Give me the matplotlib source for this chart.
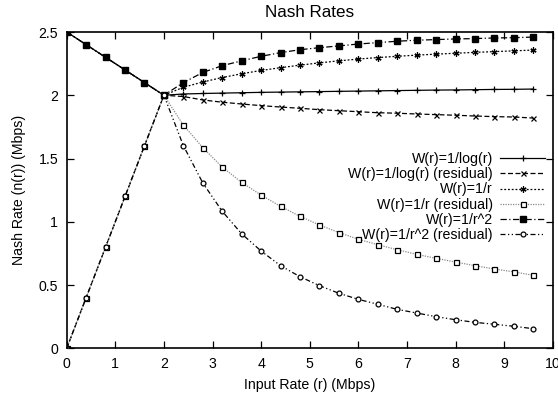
import matplotlib
matplotlib.use('Agg')
import matplotlib.pyplot as plt

plt.rcParams['font.family'] = ['Liberation Sans', 'DejaVu Sans']
plt.rcParams['font.size'] = 10.2

# Input rate (Mbps)
x = [0.0, 0.4, 0.8, 1.2, 1.6, 2.0, 2.4, 2.8, 3.2, 3.6, 4.0, 4.4, 4.8,
     5.2, 5.6, 6.0, 6.4, 6.8, 7.2, 7.6, 8.0, 8.4, 8.8, 9.2, 9.6]

log_r = [2.5, 2.4, 2.3, 2.2, 2.1, 2.0,
         2.010, 2.014, 2.017, 2.020, 2.023, 2.025, 2.027, 2.029, 2.031,
         2.033, 2.035, 2.037, 2.039, 2.041, 2.042, 2.044, 2.046, 2.047, 2.049]
log_r_res = [0.0, 0.4, 0.8, 1.2, 1.6, 2.0,
             1.990, 1.963, 1.945, 1.931, 1.918, 1.907, 1.897, 1.886, 1.878,
             1.870, 1.862, 1.858, 1.852, 1.847, 1.842, 1.836, 1.831, 1.828, 1.820]
inv_r = [2.5, 2.4, 2.3, 2.2, 2.1, 2.0,
         2.063, 2.105, 2.140, 2.170, 2.196, 2.218, 2.238, 2.256, 2.272,
         2.286, 2.298, 2.308, 2.317, 2.325, 2.332, 2.339, 2.345, 2.351, 2.357]
inv_r_res = [0.0, 0.4, 0.8, 1.2, 1.6, 2.0,
             1.765, 1.586, 1.432, 1.311, 1.211, 1.122, 1.043, 0.975, 0.915,
             0.862, 0.819, 0.779, 0.743, 0.711, 0.682, 0.653, 0.627, 0.604, 0.577]
inv_r2 = [2.5, 2.4, 2.3, 2.2, 2.1, 2.0,
          2.100, 2.180, 2.234, 2.272, 2.308, 2.337, 2.360, 2.376, 2.390,
          2.405, 2.416, 2.427, 2.435, 2.440, 2.445, 2.448, 2.453, 2.455, 2.460]
inv_r2_res = [0.0, 0.4, 0.8, 1.2, 1.6, 2.0,
              1.602, 1.307, 1.083, 0.905, 0.769, 0.653, 0.566, 0.495, 0.435,
              0.387, 0.348, 0.308, 0.279, 0.250, 0.226, 0.205, 0.190, 0.174, 0.155]

labels = ['W(r)=1/log(r)', 'W(r)=1/log(r) (residual)', 'W(r)=1/r',
          'W(r)=1/r (residual)', 'W(r)=1/r^2', 'W(r)=1/r^2 (residual)']
x_ticks = [0, 1, 2, 3, 4, 5, 6, 7, 8, 9, 10]
y_ticks = [0, 0.5, 1, 1.5, 2, 2.5]
y_ticklabels = ['0', '0.5', '1', '1.5', '2', '2.5']

fig = plt.figure(figsize=(5.58, 3.97), dpi=100)
ax = fig.add_axes([66.7 / 558, 1 - 348.3 / 397, 486 / 558, 316.3 / 397])

lw = 0.9
ax.plot(x, log_r, color='k', lw=lw, ls='-', marker='+', ms=4.8, mew=0.9,
        label=labels[0])
ax.plot(x, log_r_res, color='k', lw=lw, ls=(0, (4, 2)), marker='x', ms=3.6,
        mew=0.9, label=labels[1])
ax.plot(x, inv_r, color='k', lw=lw, ls=(0, (1.5, 1.5)), marker=(6, 2, 0),
        ms=4.4, mew=0.9, label=labels[2])
ax.plot(x, inv_r_res, color='#8a8a8a', lw=lw, ls=(0, (1, 1)), marker='s',
        ms=3.6, mfc='white', mec='k', mew=0.9, label=labels[3])
ax.plot(x, inv_r2, color='k', lw=lw, ls=(0, (5, 2, 1, 2)), marker='s',
        ms=4.2, mfc='k', mec='k', label=labels[4])
ax.plot(x, inv_r2_res, color='k', lw=lw, ls=(0, (4, 2, 1, 2, 1, 2)),
        marker='o', ms=3.5, mfc='white', mec='k', mew=0.9, label=labels[5])

ax.set_xlim(0, 10)
ax.set_ylim(0, 2.5)
ax.set_xticks(x_ticks)
ax.set_yticks(y_ticks)
ax.set_yticklabels(y_ticklabels)
ax.tick_params(direction='in', top=True, right=True, length=5, width=0.9,
               pad=6)
for s in ax.spines.values():
    s.set_linewidth(1.2)

ax.set_title('Nash Rates', pad=11)
ax.set_xlabel('Input Rate (r) (Mbps)', labelpad=5)
ax.set_ylabel('Nash Rate (n(r)) (Mbps)', labelpad=9)

leg = ax.legend(loc='upper right', bbox_to_anchor=(0.985, 0.62),
                frameon=False, markerfirst=False, handlelength=3.2,
                labelspacing=0.08, borderpad=0, handletextpad=0.5,
                borderaxespad=0)
for col in leg._legend_handle_box.get_children():
    col.align = 'right'

fig.savefig('out.png', dpi=100)
